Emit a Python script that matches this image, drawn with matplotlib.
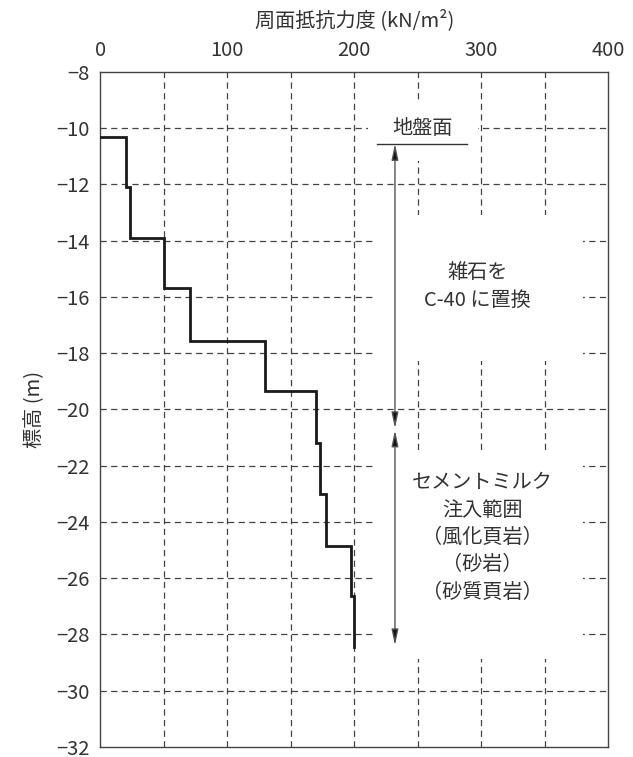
import matplotlib

matplotlib.use("Agg")
import matplotlib.pyplot as plt
import numpy as np
from matplotlib.patches import FancyArrowPatch, Rectangle

plt.rcParams["font.family"] = ["Noto Sans CJK JP", "DejaVu Sans"]

# step profile: layer boundaries (m) and skin friction per layer (kN/m2)
depth_edges = [-10.3, -12.1, -13.9, -15.7, -17.55, -19.35, -21.2, -23.0, -24.85, -26.65, -28.45]
friction = [20, 23, 50, 71, 130, 170, 173, 178, 197, 200]

x_ticks = [0, 100, 200, 300, 400]
y_ticks = list(range(-8, -33, -2))

ground_level = -10.55
replace_range = (-10.55, -20.68)
grout_range = (-20.74, -28.4)
arrow_x = 232

TEXT = "#333333"

fig = plt.figure(figsize=(6.33, 7.57), dpi=100)
ax = fig.add_axes([0.1585, 0.0135, 0.8025, 0.8914])

ax.set_xlim(0, 400)
ax.set_ylim(-32, -8)
ax.xaxis.tick_top()
ax.xaxis.set_label_position("top")
ax.set_xticks(x_ticks)
ax.set_yticks(y_ticks)
ax.tick_params(length=0, pad=8, labelsize=14.5, colors=TEXT)
ax.set_xlabel("周面抵抗力度 (kN/m²)", fontsize=14.5, color=TEXT, labelpad=10)
ax.set_ylabel("標高 (m)", fontsize=14.5, color=TEXT, labelpad=8)
for s in ax.spines.values():
    s.set_color("#444444")
    s.set_linewidth(1.0)

# dashed grid every 50 kN/m2 and every 2 m
for gx in np.arange(50, 400, 50):
    ax.axvline(gx, color="#444444", lw=0.9, ls=(0, (5, 3.5)), zorder=1)
for gy in y_ticks[1:-1]:
    ax.axhline(gy, color="#444444", lw=0.9, ls=(0, (5, 3.5)), zorder=1)

# white panels behind the annotations
for (x0, x1, y0, y1) in [(211, 297, -11.15, -9.04), (215, 380, -18.28, -13.09), (215, 380, -28.87, -21.5)]:
    ax.add_patch(Rectangle((x0, y0), x1 - x0, y1 - y0, facecolor="white", edgecolor="none", zorder=2))

# step line
xs = [0]
ys = [depth_edges[0]]
for v, top, bot in zip(friction, depth_edges[:-1], depth_edges[1:]):
    xs += [v, v]
    ys += [top, bot]
ax.plot(xs, ys, color="#1a1a1a", lw=2.0, solid_joinstyle="miter", zorder=4)

# ground surface label
ax.text(254, -10.0, "地盤面", ha="center", va="center", fontsize=14.5, color=TEXT, zorder=5)
ax.plot([217.5, 289], [ground_level, ground_level], color="#333333", lw=1.0, zorder=5)

for y0, y1 in [replace_range, grout_range]:
    arr = FancyArrowPatch((arrow_x, y0), (arrow_x, y1), arrowstyle="<|-|>,head_length=0.95,head_width=0.2",
                          mutation_scale=10, color="#555555", lw=1.0, shrinkA=0, shrinkB=0, zorder=5)
    arr.set_facecolor("#111111")
    ax.add_patch(arr)

ax.text(297, -15.63, "雑石を\nC-40 に置換", ha="center", va="center", fontsize=14.5,
        color=TEXT, linespacing=1.45, zorder=5)
ax.text(301, -24.56, "セメントミルク\n注入範囲\n（風化頁岩）\n（砂岩）\n（砂質頁岩）", ha="center", va="center",
        fontsize=14.5, color=TEXT, linespacing=1.4, zorder=5)

fig.savefig("out.png", dpi=100)
